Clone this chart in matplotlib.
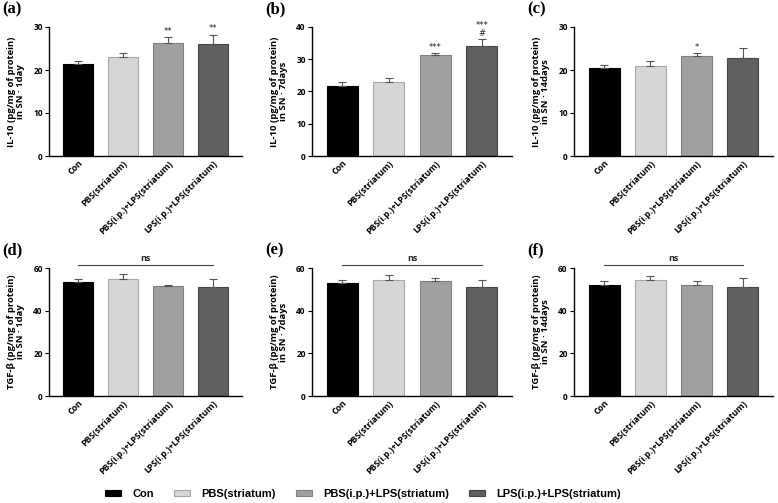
import matplotlib
matplotlib.use('Agg')
import matplotlib.pyplot as plt
import numpy as np

groups = ['Con', 'PBS(striatum)', 'PBS(i.p.)+LPS(striatum)', 'LPS(i.p.)+LPS(striatum)']
colors = ['#000000', '#d6d6d6', '#a0a0a0', '#606060']
edges = ['#000000', '#a8a8a8', '#808080', '#454545']

# IL-10 panels
il10_1d = [21.3, 23.0, 26.3, 26.0]
il10_1d_err = [0.7, 1.0, 1.3, 2.2]
il10_7d = [21.8, 23.0, 31.2, 34.2]
il10_7d_err = [1.0, 1.1, 0.6, 2.0]
il10_14d = [20.5, 21.0, 23.2, 22.8]
il10_14d_err = [0.7, 1.0, 0.8, 2.3]

# TGF-b panels
tgf_1d = [53.5, 55.0, 51.7, 51.3]
tgf_1d_err = [1.3, 2.0, 0.5, 3.5]
tgf_7d = [53.0, 54.5, 53.8, 51.2]
tgf_7d_err = [1.5, 2.0, 1.5, 3.0]
tgf_14d = [52.2, 54.3, 52.0, 51.3]
tgf_14d_err = [1.7, 1.8, 1.8, 4.2]

sig_1d = ['', '', '**', '**']
sig_7d = ['', '', '***', '***\n#']
sig_14d = ['', '', '*', '']

panels = [
    ('(a)', il10_1d, il10_1d_err, 'IL-10 (pg/mg of protein)\nin SN · 1day', 30, 10, sig_1d, False),
    ('(b)', il10_7d, il10_7d_err, 'IL-10 (pg/mg of protein)\nin SN · 7days', 40, 10, sig_7d, False),
    ('(c)', il10_14d, il10_14d_err, 'IL-10 (pg/mg of protein)\nin SN · 14days', 30, 10, sig_14d, False),
    ('(d)', tgf_1d, tgf_1d_err, 'TGF-β (pg/mg of protein)\nin SN · 1day', 60, 20, None, True),
    ('(e)', tgf_7d, tgf_7d_err, 'TGF-β (pg/mg of protein)\nin SN · 7days', 60, 20, None, True),
    ('(f)', tgf_14d, tgf_14d_err, 'TGF-β (pg/mg of protein)\nin SN · 14days', 60, 20, None, True),
]

W, H = 778, 503
fig = plt.figure(figsize=(W / 100, H / 100), dpi=100)

lefts = [49, 312, 574]
rights = [242, 512, 773]
tops = [27, 268]
bottoms = [156, 396]

fnt = 'Open Sans'
x = np.arange(4)

for k, (lab, vals, errs, ylab, ymax, step, sig, ns) in enumerate(panels):
    r, c = divmod(k, 3)
    ax = fig.add_axes([lefts[c] / W, 1 - bottoms[r] / H,
                       (rights[c] - lefts[c]) / W, (bottoms[r] - tops[r]) / H])
    ax.bar(x, vals, width=0.67, color=colors, edgecolor=edges, linewidth=0.8,
           yerr=[np.zeros(4), errs], error_kw=dict(ecolor='#555555', elinewidth=0.8,
                                                    capsize=3, capthick=0.8))
    ax.set_xlim(-0.65, 3.65)
    ax.set_ylim(0, ymax)
    ax.set_yticks(np.arange(0, ymax + 1, step))
    ax.spines['top'].set_visible(False)
    ax.spines['right'].set_visible(False)
    ax.spines['left'].set_linewidth(1.0)
    ax.spines['bottom'].set_linewidth(1.0)
    ax.tick_params(axis='y', length=3, width=0.8, pad=1.5, labelsize=6)
    ax.tick_params(axis='x', length=0, pad=2)
    ax.set_xticks(x)
    ax.set_xticklabels(groups, rotation=45, ha='right', rotation_mode='anchor',
                       fontsize=6.3, fontfamily=fnt, fontweight='bold')
    for t in ax.get_yticklabels():
        t.set_fontfamily(fnt)
        t.set_fontweight('bold')
    ax.set_ylabel(ylab, fontsize=6.8, fontfamily=fnt, fontweight='bold',
                  linespacing=0.95, labelpad=6)
    fig.text((lefts[c] - 47) / W, 1 - (tops[r] - 18) / H, lab, fontsize=12,
             fontfamily='Liberation Serif', fontweight='bold', va='center', ha='left')
    if sig:
        for i in range(4):
            if sig[i]:
                ax.text(x[i], vals[i] + errs[i] + ymax * 0.01, sig[i], ha='center',
                        va='bottom', fontsize=6, fontfamily='DejaVu Sans',
                        linespacing=0.9, color='#222222')
    if ns:
        ax.plot([0, 3], [61.3, 61.3], color='#444444', lw=0.8, clip_on=False)
        ax.text(1.5, 62.3, 'ns', ha='center', va='bottom', fontsize=6.5,
                fontfamily=fnt, fontweight='bold', color='#222222')

handles = [plt.Rectangle((0, 0), 1, 1, facecolor=colors[i], edgecolor=edges[i], lw=0.8)
           for i in range(4)]
fig.legend(handles, groups, loc='center', bbox_to_anchor=(363 / W, 1 - 494 / H),
           ncol=4, frameon=False, handlelength=1.45, handleheight=0.55,
           columnspacing=1.8, handletextpad=1.0,
           prop={'family': 'Liberation Sans', 'weight': 'bold', 'size': 8})

fig.savefig('out.png', dpi=100)
